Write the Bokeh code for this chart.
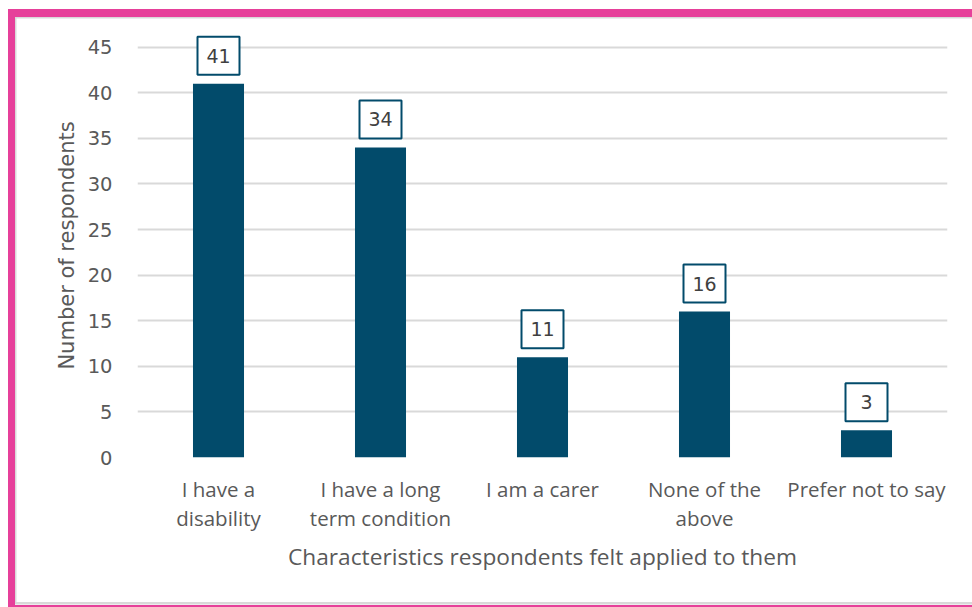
from bokeh.plotting import figure
from bokeh.models import FactorRange, Range1d, FixedTicker, ColumnDataSource
from bokeh.core.properties import value
from bokeh.embed import file_html
from bokeh.resources import INLINE

# Survey data
categories = ["I have a\ndisability", "I have a long\nterm condition",
              "I am a carer", "None of the\nabove", "Prefer not to say"]
respondents = [41, 34, 11, 16, 3]
y_ticks = [0, 5, 10, 15, 20, 25, 30, 35, 40, 45]

BAR = "#024B6B"
PINK = "#E6409A"
GRID = "#D9D9D9"
TEXT = "#595959"

W, H = 972, 607
LEFT, RIGHT, TOP, BOTTOM = 137, 25, 33, 150
Y_MAX = 46.5
frame_h = H - TOP - BOTTOM
px_per_unit = frame_h / Y_MAX
label_gap = 28 / px_per_unit  # label box sits just above each bar

p = figure(width=W, height=H, x_range=FactorRange(*categories, range_padding=0),
           y_range=Range1d(0, Y_MAX), output_backend="svg",
           toolbar_location=None, min_border_left=LEFT, min_border_right=RIGHT,
           min_border_top=TOP, min_border_bottom=BOTTOM)
p.outline_line_color = None
p.background_fill_color = "white"
p.border_fill_alpha = 0


# pink frame drawn behind the (transparent) border area of the canvas
def band(x, y, w, h, color):
    return f"linear-gradient({color},{color}) {x}px {y}px / {w}px {h}px no-repeat"


p.styles = {"background": ", ".join([
    band(8, 9, W - 8, 8, PINK),
    band(8, 9, 7, H - 9, PINK),
    band(8, 604.5, W - 8, 2.5, PINK),
    band(15, 17, W - 15, 1.5, GRID),
    band(15, 17, 1.5, 586, GRID),
    band(15, 602, W - 15, 2.5, GRID),
    "white",
])}

src = ColumnDataSource(dict(cat=categories, val=respondents,
                            lab=[str(v) for v in respondents],
                            ly=[v + label_gap for v in respondents]))

p.vbar(x="cat", top="val", bottom=0, width=0.315, source=src,
       fill_color=BAR, line_color=None)
p.rect(x="cat", y="ly", width=42, height=38, width_units="screen",
       height_units="screen", source=src, fill_color="white",
       line_color=BAR, line_width=2)
p.text(x="cat", y="ly", text="lab", source=src, text_align="center",
       text_baseline="middle", text_font=value("DejaVu Sans"),
       text_font_size="19px", text_color="#404040")

# axes and grid
p.yaxis.ticker = FixedTicker(ticks=y_ticks)
p.ygrid.ticker = FixedTicker(ticks=y_ticks)
p.ygrid.grid_line_color = GRID
p.ygrid.grid_line_width = 2
p.xgrid.grid_line_color = None

p.yaxis.axis_line_color = None
p.yaxis.major_tick_line_color = None
p.yaxis.minor_tick_line_color = None
p.yaxis.major_label_standoff = 19
p.yaxis.major_label_text_font = "DejaVu Sans"
p.yaxis.major_label_text_font_size = "19.5px"
p.yaxis.major_label_text_color = TEXT
p.yaxis.axis_label = "Number of respondents"
p.yaxis.axis_label_text_font = "DejaVu Sans"
p.yaxis.axis_label_text_font_size = "21px"
p.yaxis.axis_label_text_font_style = "normal"
p.yaxis.axis_label_text_color = TEXT
p.yaxis.axis_label_standoff = 6

p.xaxis.axis_line_color = None
p.xaxis.major_tick_line_color = None
p.xaxis.major_label_standoff = 11
p.xaxis.major_label_text_font = "Open Sans"
p.xaxis.major_label_text_font_size = "20.5px"
p.xaxis.major_label_text_line_height = 1.05
p.xaxis.major_label_text_color = TEXT
p.xaxis.axis_label = "Characteristics respondents felt applied to them"
p.xaxis.axis_label_text_font = "Open Sans"
p.xaxis.axis_label_text_font_size = "22.7px"
p.xaxis.axis_label_text_font_style = "normal"
p.xaxis.axis_label_text_color = TEXT
p.xaxis.axis_label_standoff = 6

open("out.html", "w").write(file_html(p, INLINE))
